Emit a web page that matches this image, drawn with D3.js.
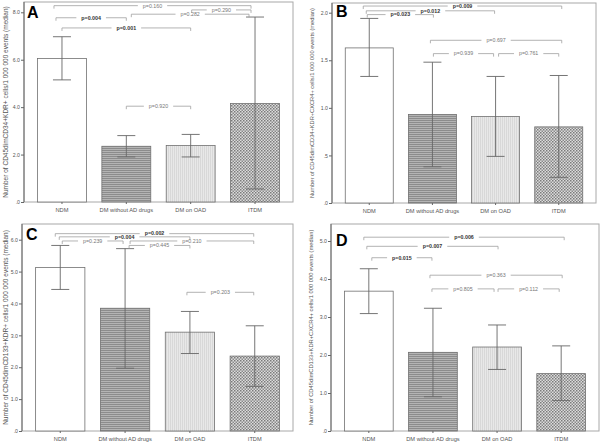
<!DOCTYPE html>
<html><head><meta charset="utf-8">
<script src="https://cdn.jsdelivr.net/npm/d3@7"></script>
<style>body{margin:0;background:#fff}svg{display:block}text{font-family:"Liberation Sans",Arial,sans-serif}</style>
</head><body>
<script>
const categories = ["NDM", "DM without AD drugs", "DM on OAD", "ITDM"];

const medianA = [6.05, 2.35, 2.38, 4.15];
const lowA    = [5.15, 1.90, 1.90, 0.55];
const highA   = [6.97, 2.80, 2.85, 7.80];
const ticksA  = [0, 2, 4, 6, 8];
const tickLabelsA = [".0", "2.0", "4.0", "6.0", "8.0"];
const compA = [
  {a:0, b:3, v:8.28, p:"p=0.160", bold:false},
  {a:2, b:3, v:8.10, p:"p=0.290", bold:false},
  {a:1, b:3, v:7.92, p:"p=0.282", bold:false},
  {a:0, b:1, v:7.77, p:"p=0.004", bold:true},
  {a:0, b:2, v:7.34, p:"p=0.001", bold:true},
  {a:1, b:2, v:4.04, p:"p=0.920", bold:false}
];

const medianB = [1.63, 0.93, 0.91, 0.80];
const lowB    = [1.33, 0.38, 0.49, 0.27];
const highB   = [1.94, 1.48, 1.33, 1.34];
const ticksB  = [0, 0.5, 1, 1.5, 2];
const tickLabelsB = [".0", ".5", "1.0", "1.5", "2.0"];
const compB = [
  {a:0, b:3, v:2.07, p:"p=0.009", bold:true},
  {a:0, b:2, v:2.02, p:"p=0.012", bold:true},
  {a:0, b:1, v:1.98, p:"p=0.023", bold:true},
  {a:1, b:3, v:1.71, p:"p=0.697", bold:false},
  {a:1, b:2, v:1.57, p:"p=0.939", bold:false},
  {a:2, b:3, v:1.57, p:"p=0.761", bold:false}
];

const medianC = [5.13, 3.85, 3.10, 2.35];
const lowC    = [4.44, 1.97, 2.43, 1.40];
const highC   = [5.82, 5.72, 3.75, 3.30];
const ticksC  = [0, 1, 2, 3, 4, 5, 6];
const tickLabelsC = [".0", "1.0", "2.0", "3.0", "4.0", "5.0", "6.0"];
const compC = [
  {a:0, b:3, v:6.19, p:"p=0.002", bold:true},
  {a:0, b:2, v:6.09, p:"p=0.004", bold:true},
  {a:0, b:1, v:5.96, p:"p=0.239", bold:false},
  {a:1, b:3, v:5.96, p:"p=0.210", bold:false},
  {a:1, b:2, v:5.82, p:"p=0.445", bold:false},
  {a:2, b:3, v:4.35, p:"p=0.203", bold:false}
];

const medianD = [3.68, 2.07, 2.21, 1.51];
const lowD    = [3.09, 0.90, 1.62, 0.80];
const highD   = [4.27, 3.23, 2.79, 2.24];
const ticksD  = [0, 1, 2, 3, 4, 5];
const tickLabelsD = [".0", "1.0", "2.0", "3.0", "4.0", "5.0"];
const compD = [
  {a:0, b:3, v:5.10, p:"p=0.006", bold:true},
  {a:0, b:2, v:4.86, p:"p=0.007", bold:true},
  {a:0, b:1, v:4.56, p:"p=0.015", bold:true},
  {a:1, b:3, v:4.10, p:"p=0.363", bold:false},
  {a:1, b:2, v:3.74, p:"p=0.805", bold:false},
  {a:2, b:3, v:3.74, p:"p=0.112", bold:false}
];

const yTitles = [
  "Number of CD45dimCD34+KDR+ cells/1 000 000 events (median)",
  "Number of CD45dimCD34+KDR+CXCR4+ cells/1 000 000 events (median)",
  "Number of CD45dimCD133+KDR+ cells/1 000 000 events (median)",
  "Number of CD45dimCD133+KDR+CXCR4+ cells/1 000 000 events (median)"
];
const letters = ["A", "B", "C", "D"];

// layout (pixel boxes of each plot area)
const layout = [
  {x0:24,  x1:293, top:2,   bottom:202, yMax:8, yTopPx:12.3, tx:6,  lx:27,  ly:18,  titleLen:192},
  {x0:332, x1:596, top:3,   bottom:203, yMax:2, yTopPx:12.7, tx:312, lx:336, ly:17, titleLen:190},
  {x0:22,  x1:293, top:224, bottom:431, yMax:6, yTopPx:239.7, tx:6, lx:26,  ly:240, titleLen:195},
  {x0:331, x1:599, top:224, bottom:431, yMax:5, yTopPx:241,  tx:311, lx:336, ly:246, titleLen:196}
];
const bracketOffsets = [
  [[-8,-4],[1,-4],[5,-6],[-6,0],[0,0],[0,0]],
  [[-6,3],[-3,-1],[-2,1],[-2,3],[1,-2],[3,0]],
  [[-5,-1],[-1,0],[2,-2],[5,-1],[4,0],[-3,-1]],
  [[-5,3],[-2,1],[3,-1],[-3,1],[-1,-3],[1,-2]]
];

const panels = [
  {median:medianA, low:lowA, high:highA, ticks:ticksA, tl:tickLabelsA, comp:compA},
  {median:medianB, low:lowB, high:highB, ticks:ticksB, tl:tickLabelsB, comp:compB},
  {median:medianC, low:lowC, high:highC, ticks:ticksC, tl:tickLabelsC, comp:compC},
  {median:medianD, low:lowD, high:highD, ticks:ticksD, tl:tickLabelsD, comp:compD}
];

const svg = d3.select("body").append("svg").attr("width", 600).attr("height", 444);
const defs = svg.append("defs");
const p1 = defs.append("pattern").attr("id","hl").attr("patternUnits","userSpaceOnUse").attr("width",4).attr("height",2);
p1.append("rect").attr("width",4).attr("height",2).attr("fill","#b4b4b4");
p1.append("rect").attr("width",4).attr("height",1).attr("fill","#8c8c8c");
const p2 = defs.append("pattern").attr("id","vl").attr("patternUnits","userSpaceOnUse").attr("width",2).attr("height",4);
p2.append("rect").attr("width",2).attr("height",4).attr("fill","#e8e8e8");
p2.append("rect").attr("width",1).attr("height",4).attr("fill","#d8d8d8");
const p3 = defs.append("pattern").attr("id","ck").attr("patternUnits","userSpaceOnUse").attr("width",3).attr("height",3);
p3.append("rect").attr("width",3).attr("height",3).attr("fill","#dcdcdc");
p3.append("rect").attr("x",0).attr("y",0).attr("width",1.5).attr("height",1.5).attr("fill","#7a7a7a");
p3.append("rect").attr("x",1.5).attr("y",1.5).attr("width",1.5).attr("height",1.5).attr("fill","#8a8a8a");
const fills = ["#ffffff", "url(#hl)", "url(#vl)", "url(#ck)"];

panels.forEach((P, k) => {
  const L = layout[k];
  const g = svg.append("g");
  const y = d3.scaleLinear().domain([0, L.yMax]).range([L.bottom, L.yTopPx]);
  const x = d3.scaleBand().domain(categories).range([L.x0, L.x1]).paddingInner(0.24).paddingOuter(0.21);
  const cx = i => x(categories[i]) + x.bandwidth() / 2;

  g.append("rect").attr("x", L.x0).attr("y", L.top).attr("width", L.x1 - L.x0).attr("height", L.bottom - L.top)
    .attr("fill", "none").attr("stroke", "#a8a8a8").attr("stroke-width", 1);

  g.selectAll("rect.bar").data(P.median).join("rect").attr("class","bar")
    .attr("x", (d, i) => x(categories[i])).attr("width", x.bandwidth())
    .attr("y", d => y(d)).attr("height", d => y(0) - y(d))
    .attr("fill", (d, i) => fills[i]).attr("stroke", "#707070").attr("stroke-width", 0.8);

  const cap = 9;
  P.median.forEach((d, i) => {
    const c = cx(i);
    g.append("line").attr("x1", c).attr("x2", c).attr("y1", y(P.low[i])).attr("y2", y(P.high[i])).attr("stroke", "#666").attr("stroke-width", 0.9);
    [P.low[i], P.high[i]].forEach(v => g.append("line").attr("x1", c - cap).attr("x2", c + cap).attr("y1", y(v)).attr("y2", y(v)).attr("stroke", "#666").attr("stroke-width", 0.9));
  });

  const ya = d3.axisLeft(y).tickValues(P.ticks).tickFormat((d, i) => P.tl[i]).tickSize(3).tickPadding(1);
  const yg = g.append("g").attr("transform", `translate(${L.x0},0)`).call(ya);
  yg.select(".domain").attr("stroke", "#666").attr("d", `M0,${L.bottom}V${L.top}`);
  yg.selectAll(".tick line").attr("stroke", "#666");
  yg.selectAll(".tick text").attr("font-size", 5.2).attr("fill", "#555");

  const xa = d3.axisBottom(x).tickSize(2).tickPadding(4);
  const xg = g.append("g").attr("transform", `translate(0,${L.bottom})`).call(xa);
  xg.select(".domain").remove();
  xg.selectAll(".tick line").attr("stroke", "#666");
  xg.selectAll(".tick text").attr("font-size", 5.7).attr("fill", "#555");

  const tt = g.append("text").attr("transform", `translate(${L.tx},${(L.top + L.bottom) / 2}) rotate(-90)`)
    .attr("text-anchor", "middle").attr("dy", "0.35em").attr("font-size", 6).attr("fill", "#555").text(yTitles[k]);
  const tw = tt.node().getComputedTextLength();
  tt.attr("font-size", 6 * L.titleLen / tw);

  g.append("text").attr("x", L.lx).attr("y", L.ly).attr("font-size", 16).attr("font-weight", "bold").attr("fill", "#000").text(letters[k]);

  P.comp.forEach((c, j) => {
    const off = bracketOffsets[k][j];
    const xa1 = cx(c.a) + off[0], xb1 = cx(c.b) + off[1];
    const yy = y(c.v);
    const mid = (xa1 + xb1) / 2;
    const path = g.append("path").attr("fill", "none").attr("stroke", "#a0a0a0").attr("stroke-width", 0.8);
    const t = g.append("text").attr("x", mid).attr("y", yy).attr("dy", "0.35em").attr("text-anchor", "middle")
      .attr("font-size", 5.3).attr("font-weight", c.bold ? "bold" : "normal").attr("fill", c.bold ? "#333" : "#777").text(c.p);
    const w = t.node().getComputedTextLength();
    const gap = w / 2 + 5;
    path.attr("d", `M${xa1},${yy + 3}V${yy}H${mid - gap}M${mid + gap},${yy}H${xb1}V${yy + 3}`);
  });
});
</script>
</body></html>
